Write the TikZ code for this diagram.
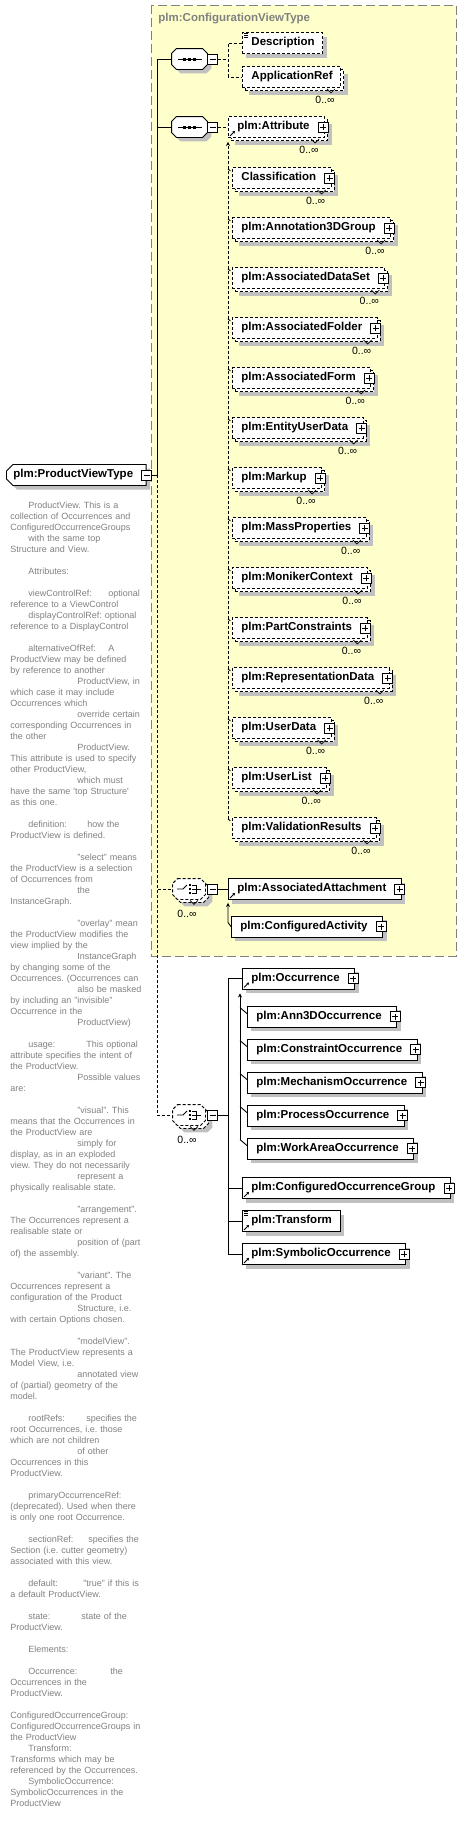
\documentclass[tikz,border=0pt]{standalone}
\usepackage{fontspec}
\setmainfont{Liberation Sans}
\usetikzlibrary{shapes.misc,shadows,arrows.meta}

\definecolor{panel}{RGB}{255,255,204}
\definecolor{shadowgray}{RGB}{192,192,192}
\definecolor{frame}{RGB}{128,128,128}
\definecolor{notegray}{RGB}{128,128,128}

% small marks drawn on the boxes
\newcommand{\refmark}[1]{\draw[line width=.8pt,-{Stealth[length=2.5pt,width=3pt]}] ([xshift=2pt,yshift=2pt]#1.south west) -- ++(5,-5);}
\newcommand{\textmark}[1]{\draw[line width=.6pt] ([xshift=2pt,yshift=-1.5pt]#1.north west) -- ++(4,0) ([xshift=2pt,yshift=-3.5pt]#1.north west) -- ++(4,0) ([xshift=2pt,yshift=-5.5pt]#1.north west) -- ++(4,0);}
\newcommand{\stackmark}[1]{\draw[line width=.7pt] (#1) ++(0,1) -- ++(4,4) -- ++(4,-4);}
% compositor outlines
\newcommand{\octpath}[1]{([xshift=5pt]#1.north west) -- ([xshift=-5pt]#1.north east) -- ([yshift=-5pt]#1.north east) -- ([yshift=5pt]#1.south east) -- ([xshift=-5pt]#1.south east) -- ([xshift=5pt]#1.south west) -- ([yshift=5pt]#1.south west) -- ([yshift=-5pt]#1.north west) -- cycle}
\newcommand{\seqoct}[1]{%
  \fill[shadowgray, transform canvas={shift={(4pt,-4pt)}}] \octpath{#1};
  \draw[fill=white] \octpath{#1};}
\newcommand{\choiceoct}[1]{%
  \fill[shadowgray, transform canvas={shift={(7pt,-7pt)}}] \octpath{#1};
  \draw[fill=white, dash pattern=on 3pt off 2pt, transform canvas={shift={(3pt,-3pt)}}] \octpath{#1};
  \draw[fill=white, dash pattern=on 3pt off 2pt] \octpath{#1};}
\newcommand{\seqicon}[1]{%
  \draw ([xshift=-12pt]#1.center) -- ([xshift=12pt]#1.center);
  \foreach \dx in {-5,0,5} {\fill ([xshift=\dx pt]#1.center) ++(-1.5,-1.5) rectangle ++(3,3);}}
\newcommand{\choiceicon}[1]{%
  \draw ([xshift=-12pt]#1.center) -- ([xshift=-6pt]#1.center) -- ([xshift=-2pt,yshift=4pt]#1.center);
  \foreach \dy in {-4,0,4} {\fill ([xshift=1pt,yshift=\dy pt]#1.center) ++(-1.2,-1.2) rectangle ++(2.4,2.4);}
  \draw ([xshift=3pt,yshift=4pt]#1.center) -| ([xshift=7pt,yshift=-4pt]#1.center) -- ([xshift=3pt,yshift=-4pt]#1.center)
        ([xshift=3pt]#1.center) -- ([xshift=12pt]#1.center);}

\begin{document}
\begin{tikzpicture}[x=1pt, y=-1pt, line width=0.9pt,
  opt/.style={dash pattern=on 3pt off 2pt},
  sh/.style={general shadow={shadow xshift=4pt, shadow yshift=-4pt, fill=shadowgray, draw=none}},
  stack/.style={general shadow={shadow xshift=7pt, shadow yshift=-7pt, fill=shadowgray, draw=none},
                general shadow={shadow xshift=3pt, shadow yshift=-3pt, fill=white, draw, opt}},
  mult/.style={font=\fontsize{10.5}{12}\selectfont, inner sep=0pt, anchor=north east, xshift=-6pt, yshift=-8pt},
  cmult/.style={font=\fontsize{10.5}{12}\selectfont, inner sep=0pt, anchor=north, xshift=-2pt, yshift=-10pt},
  many/.style={stack, label={[mult]south east:0..∞}},
  manyc/.style={label={[cmult]south:0..∞}},
  elt/.style={draw, fill=white, anchor=west, minimum height=21pt, inner xsep=0pt, inner ysep=0pt,
              font=\bfseries\fontsize{11.5}{13}\selectfont,
              execute at begin node={\hspace{9pt}\vphantom{Ay}}, execute at end node={\hspace{8pt}}},
  xp/.style={execute at end node={\hspace{7pt}}},
  expander/.style={draw, solid, fill=white, minimum size=10pt, inner sep=0pt, line width=.8pt,
              path picture={\draw[line width=.8pt] ([xshift=2pt]path picture bounding box.west) -- ([xshift=-2pt]path picture bounding box.east)
                ([yshift=2pt]path picture bounding box.south) -- ([yshift=-2pt]path picture bounding box.north);}},
  collapser/.style={draw, solid, fill=white, minimum size=10pt, inner sep=0pt, line width=.8pt,
              path picture={\draw[line width=.8pt] ([xshift=2pt]path picture bounding box.west) -- ([xshift=-2pt]path picture bounding box.east);}},
  cbox/.style={rectangle, minimum width=35pt, minimum height=20pt, inner sep=0pt},
  rootbox/.style={chamfered rectangle, chamfered rectangle corners={north west,south west}, chamfered rectangle xsep=3pt,
              draw, fill=white, anchor=west, minimum height=21pt, inner xsep=0pt, inner ysep=0pt,
              font=\bfseries\fontsize{11.5}{13}\selectfont,
              execute at begin node={\hspace{4pt}\vphantom{Ay}}, execute at end node={\hspace{10pt}}},
  paneltitle/.style={font=\bfseries\fontsize{11.5}{13}\selectfont, text=frame, anchor=west, inner sep=0pt},
  note/.style={font=\fontsize{9}{11}\selectfont\frenchspacing, text=notegray, text width=150pt, align=left, anchor=north west, inner sep=0pt}]

\useasboundingbox (0,0) rectangle (462,1824);

% configuration view group
\draw[fill=panel, draw=frame, line width=1pt, dash pattern=on 9pt off 4pt] (151,5) rectangle (456,956);
\node[paneltitle] (ttl) at (158,19) {plm:ConfigurationViewType};

% the type itself
\node[rootbox, sh] (pvt) at (6,475) {plm:ProductViewType};
\node[collapser] (pvtm) at (pvt.east) {};

\node[note] (doc) at (10,500) {%
\hspace*{18pt}ProductView. This is a\strut\\
collection of Occurrences and\\
ConfiguredOccurrenceGroups\\
\hspace*{18pt}with the same top\\
Structure and View.\\
\mbox{}\\
\hspace*{18pt}Attributes:\\
\mbox{}\\
\hspace*{18pt}\makebox[80pt][l]{viewControlRef:}optional\\
reference to a ViewControl\\
\hspace*{18pt}displayControlRef: optional\\
reference to a DisplayControl\\
\mbox{}\\
\hspace*{18pt}\makebox[80pt][l]{alternativeOfRef:}A\\
ProductView may be defined\\
by reference to another\\
\hspace*{67pt}ProductView, in\\
which case it may include\\
Occurrences which\\
\hspace*{67pt}override certain\\
corresponding Occurrences in\\
the other\\
\hspace*{67pt}ProductView.\\
This attribute is used to specify\\
other ProductView,\\
\hspace*{67pt}which must\\
have the same \textquotesingle top Structure\textquotesingle\\
as this one.\\
\mbox{}\\
\hspace*{18pt}\makebox[59pt][l]{definition:}how the\\
ProductView is defined.\\
\mbox{}\\
\hspace*{67pt}"select" means\\
the ProductView is a selection\\
of Occurrences from\\
\hspace*{67pt}the\\
InstanceGraph.\\
\mbox{}\\
\hspace*{67pt}"overlay" mean\\
the ProductView modifies the\\
view implied by the\\
\hspace*{67pt}InstanceGraph\\
by changing some of the\\
Occurrences. (Occurrences can\\
\hspace*{67pt}also be masked\\
by including an "invisible"\\
Occurrence in the\\
\hspace*{67pt}ProductView)\\
\mbox{}\\
\hspace*{18pt}\makebox[58pt][l]{usage:}This optional\\
attribute specifies the intent of\\
the ProductView.\\
\hspace*{67pt}Possible values\\
are:\\
\mbox{}\\
\hspace*{67pt}"visual". This\\
means that the Occurrences in\\
the ProductView are\\
\hspace*{67pt}simply for\\
display, as in an exploded\\
view. They do not necessarily\\
\hspace*{67pt}represent a\\
physically realisable state.\\
\mbox{}\\
\hspace*{67pt}"arrangement".\\
The Occurrences represent a\\
realisable state or\\
\hspace*{67pt}position of (part\\
of) the assembly.\\
\mbox{}\\
\hspace*{67pt}"variant". The\\
Occurrences represent a\\
configuration of the Product\\
\hspace*{67pt}Structure, i.e.\\
with certain Options chosen.\\
\mbox{}\\
\hspace*{67pt}"modelView".\\
The ProductView represents a\\
Model View, i.e.\\
\hspace*{67pt}annotated view\\
of (partial) geometry of the\\
model.\\
\mbox{}\\
\hspace*{18pt}\makebox[58pt][l]{rootRefs:}specifies the\\
root Occurrences, i.e. those\\
which are not children\\
\hspace*{67pt}of other\\
Occurrences in this\\
ProductView.\\
\mbox{}\\
\hspace*{18pt}primaryOccurrenceRef:\\
(deprecated). Used when there\\
is only one root Occurrence.\\
\mbox{}\\
\hspace*{18pt}\makebox[60pt][l]{sectionRef:}specifies the\\
Section (i.e. cutter geometry)\\
associated with this view.\\
\mbox{}\\
\hspace*{18pt}\makebox[55pt][l]{default:}"true" if this is\\
a default ProductView.\\
\mbox{}\\
\hspace*{18pt}\makebox[53pt][l]{state:}state of the\\
ProductView.\\
\mbox{}\\
\hspace*{18pt}Elements:\\
\mbox{}\\
\hspace*{18pt}\makebox[82pt][l]{Occurrence:}the\\
Occurrences in the\\
ProductView.\\
\mbox{}\\
ConfiguredOccurrenceGroup:\\
ConfiguredOccurrenceGroups in\\
the ProductView\\
\hspace*{18pt}Transform:\\
Transforms which may be\\
referenced by the Occurrences.\\
\hspace*{18pt}SymbolicOccurrence:\\
SymbolicOccurrences in the\\
ProductView};

% compositors
\node[cbox] (seq1) at (189.5,59) {};
\node[cbox] (seq2) at (189.5,127) {};
\node[cbox, manyc, minimum width=32pt] (ch1) at (189,889) {};
\node[cbox, manyc, minimum width=32pt] (ch2) at (189,1115) {};
\seqoct{seq1}
\seqoct{seq2}
\choiceoct{ch1}
\choiceoct{ch2}
\node[collapser, anchor=west] (seq1m) at (seq1.east) {};
\node[collapser, anchor=west] (seq2m) at (seq2.east) {};
\node[collapser, anchor=west] (ch1m) at ([xshift=2pt]ch1.east) {};
\node[collapser, anchor=west] (ch2m) at ([xshift=2pt]ch2.east) {};
\seqicon{seq1}
\seqicon{seq2}
\choiceicon{ch1}
\choiceicon{ch2}
\stackmark{[xshift=1pt]ch1.south}
\stackmark{[xshift=1pt]ch2.south}

% first sequence
\node[elt, opt, sh] (desc) at (242,43) {Description};
\node[elt, opt, many] (appref) at (242,77) {ApplicationRef};

% second sequence: the attribute substitution group
\node[elt, opt, many, xp] (attr) at (228,127) {plm:Attribute};
\node[elt, opt, many, xp] (sub0) at (232,178) {Classification};
\node[elt, opt, many, xp] (sub1) at (232,228) {plm:Annotation3DGroup};
\node[elt, opt, many, xp] (sub2) at (232,278) {plm:AssociatedDataSet};
\node[elt, opt, many, xp] (sub3) at (232,328) {plm:AssociatedFolder};
\node[elt, opt, many, xp] (sub4) at (232,378) {plm:AssociatedForm};
\node[elt, opt, many, xp] (sub5) at (232,428) {plm:EntityUserData};
\node[elt, opt, many, xp] (sub6) at (232,478) {plm:Markup};
\node[elt, opt, many, xp] (sub7) at (232,528) {plm:MassProperties};
\node[elt, opt, many, xp] (sub8) at (232,578) {plm:MonikerContext};
\node[elt, opt, many, xp] (sub9) at (232,628) {plm:PartConstraints};
\node[elt, opt, many, xp] (sub10) at (232,678) {plm:RepresentationData};
\node[elt, opt, many, xp] (sub11) at (232,728) {plm:UserData};
\node[elt, opt, many, xp] (sub12) at (232,778) {plm:UserList};
\node[elt, opt, many, xp] (sub13) at (232,828) {plm:ValidationResults};

% first choice
\node[elt, sh, xp] (assoc) at (228,889) {plm:AssociatedAttachment};
\node[elt, sh, xp] (confact) at (231,926.5) {plm:ConfiguredActivity};

% second choice
\node[elt, sh, xp] (occ) at (242,978.5) {plm:Occurrence};
\node[elt, sh, xp] (occ1) at (247,1016.5) {plm:Ann3DOccurrence};
\node[elt, sh, xp] (occ2) at (247,1049.5) {plm:ConstraintOccurrence};
\node[elt, sh, xp] (occ3) at (247,1082.5) {plm:MechanismOccurrence};
\node[elt, sh, xp] (occ4) at (247,1115.5) {plm:ProcessOccurrence};
\node[elt, sh, xp] (occ5) at (247,1148.5) {plm:WorkAreaOccurrence};
\node[elt, sh, xp] (cog) at (242,1188) {plm:ConfiguredOccurrenceGroup};
\node[elt, sh] (trf) at (242,1221) {plm:Transform};
\node[elt, sh, xp] (symb) at (242,1254) {plm:SymbolicOccurrence};

% expand buttons and marks
\foreach \n in {attr,assoc,confact,occ,cog,symb}
  {\node[expander] (\n p) at ([xshift=-2pt]\n.east) {};}
\foreach \i in {0,...,13}
  {\node[expander] (sub\i p) at ([xshift=-2pt]sub\i.east) {};}
\foreach \i in {1,...,5}
  {\node[expander] (occ\i p) at ([xshift=-2pt]occ\i.east) {};}
\foreach \n in {attr,assoc,occ,cog,trf,symb}
  {\refmark{\n}}
\textmark{desc}
\textmark{trf}
\stackmark{[xshift=-14pt]appref.south east}
\stackmark{[xshift=-14pt]attr.south east}
\foreach \i in {0,...,13}
  {\stackmark{[xshift=-14pt]sub\i.south east}}

% connectors
\coordinate (sr) at (157,475);
\draw (pvtm.east) -- (sr);
\draw (seq1.west) -| (sr);
\draw (seq2.west) -| (sr);
\draw[opt] (sr) |- (ch1.west);
\draw[opt] (sr) |- (ch2.west);

\coordinate (b1) at ([xshift=10pt]seq1m.east);
\draw[opt] (seq1m.east) -- (b1);
\draw[opt] (desc.west) -| (b1) |- (appref.west);
\draw[opt] (seq2m.east) -- (attr.west);
\foreach \i in {0,...,13}
  {\draw[opt] ([xshift=-4pt,yshift=-2pt]sub\i.north west) -- ([yshift=-5pt]sub\i.north west);}
\draw[opt, -{Stealth[length=4pt,width=4pt]}] ([xshift=-4pt,yshift=-2pt]sub13.north west) -- ([yshift=-4pt]attr.south west);

\draw (ch1m.east) -- (assoc.west);
\draw[-{Stealth[length=4pt,width=4pt]}] (confact.west) -- ++(-3,-4) -- ([yshift=-3pt]assoc.south west);

\coordinate (b4) at ([xshift=10pt]ch2m.east);
\draw (ch2m.east) -- (b4);
\draw (occ.west) -| (b4) |- (symb.west);
\draw (cog.west) -- (cog.west -| b4);
\draw (trf.west) -- (trf.west -| b4);
\foreach \i in {1,...,5}
  {\draw ([xshift=-7pt,yshift=-2pt]occ\i.north west) -- ([yshift=-8pt]occ\i.north west);}
\draw[-{Stealth[length=4pt,width=4pt]}] ([xshift=-7pt,yshift=-2pt]occ5.north west) -- ([xshift=-2pt,yshift=-4pt]occ.south west);

\end{tikzpicture}
\end{document}
